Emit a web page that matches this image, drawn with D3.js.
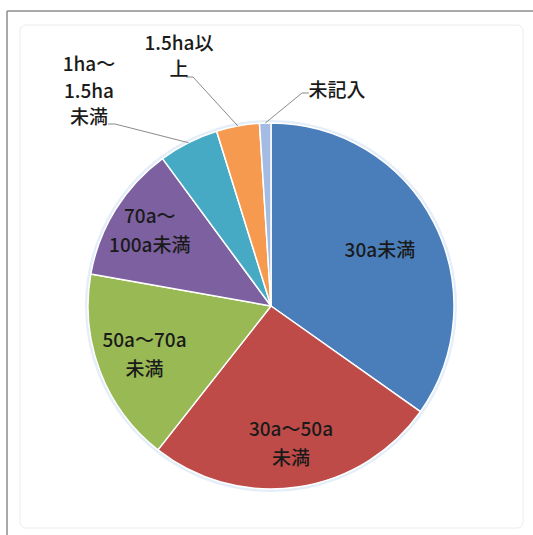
<!DOCTYPE html>
<html>
<head>
<meta charset="utf-8">
<script src="https://cdn.jsdelivr.net/npm/d3@7"></script>
<style>
  html, body { margin: 0; padding: 0; background: #fff; }
  svg { display: block; }
  text { font-family: "Noto Sans CJK JP", "Noto Sans", sans-serif; }
</style>
</head>
<body>
<svg id="chart" width="533" height="535"></svg>
<script>
// Farm size breakdown (share of respondents, %)
const categories = ["30a未満", "30a～50a未満", "50a～70a未満", "70a～100a未満", "1ha～1.5ha未満", "1.5ha以上", "未記入"];
const values = [34.8, 25.8, 17.2, 12.1, 5.3, 3.8, 1.0];
// Label text broken into lines as shown on the chart
const labelLines = [
  ["30a未満"],
  ["30a～50a", "未満"],
  ["50a～70a", "未満"],
  ["70a～", "100a未満"],
  ["1ha～", "1.5ha", "未満"],
  ["1.5ha以", "上"],
  ["未記入"]
];
const colors = ["#4a7ebb", "#be4b48", "#98b954", "#7d60a0", "#46aac5", "#f59a4f", "#a4bce4"];

// Layout: inside labels sit on an arc at a fraction of the radius;
// outside labels are placed at fixed offsets from the centre with leader lines.
const insideRadiusFrac = [0.67, 0.76, 0.74, 0.78];
const outsideLabelPos = { 4: [-182, -215], 5: [-92, -250], 6: [66, -216] };
const leaderElbow = { 4: [-156, -182], 5: [-78, -229], 6: [31, -213] };

const svg = d3.select("#chart");
const W = 533, H = 535;
const cx = 271, cy = 306, R = 183;

// Frame
svg.append("line").attr("x1", 7).attr("y1", 11).attr("x2", W).attr("y2", 11)
  .attr("stroke", "#8c8c8c").attr("stroke-width", 1.5);
svg.append("line").attr("x1", 7).attr("y1", 11).attr("x2", 7).attr("y2", H)
  .attr("stroke", "#8c8c8c").attr("stroke-width", 1.5);
svg.append("rect").attr("x", 20).attr("y", 25).attr("width", 503).attr("height", 503)
  .attr("rx", 6).attr("fill", "none").attr("stroke", "#ececec").attr("stroke-width", 1);

const g = svg.append("g").attr("transform", `translate(${cx},${cy})`);

const pie = d3.pie().sort(null).value(d => d)(values);
const arc = d3.arc().innerRadius(0).outerRadius(R);

// soft halo around the pie
g.append("circle").attr("r", R + 1.5).attr("fill", "none")
  .attr("stroke", "#e4eef8").attr("stroke-width", 3);

g.selectAll("path.slice").data(pie).join("path")
  .attr("class", "slice")
  .attr("d", arc)
  .attr("fill", (d, i) => colors[i])
  .attr("stroke", "#ffffff")
  .attr("stroke-width", 1.5)
  .attr("stroke-linejoin", "round");

const fs = 19;

function drawLines(sel, lines, x, y, color, lh) {
  const t = sel.append("text")
    .attr("text-anchor", "middle")
    .attr("font-size", fs)
    .attr("font-weight", 500)
    .attr("fill", color);
  const n = lines.length;
  lines.forEach((s, k) => {
    t.append("tspan")
      .attr("x", x)
      .attr("y", y + (k - (n - 1) / 2) * lh)
      .attr("dy", "0.36em")
      .text(s);
  });
}

// Inside labels
pie.forEach((d, i) => {
  if (i < insideRadiusFrac.length) {
    const r = R * insideRadiusFrac[i];
    const c = d3.arc().innerRadius(r).outerRadius(r).centroid(d);
    drawLines(g, labelLines[i], c[0], c[1], "#1a1a1a", 29);
  }
});

// Outside labels with leader lines
pie.forEach((d, i) => {
  if (outsideLabelPos[i]) {
    const edge = d3.arc().innerRadius(R).outerRadius(R).centroid(d);
    const e = leaderElbow[i];
    const start = i === 6 ? [e[0] + 7, e[1]] : [e[0] - 7, e[1]];
    g.append("polyline")
      .attr("points", [start, e, edge].map(p => p.join(",")).join(" "))
      .attr("fill", "none")
      .attr("stroke", "#8a8a8a")
      .attr("stroke-width", 1);
    const p = outsideLabelPos[i];
    drawLines(g, labelLines[i], p[0], p[1], "#1a1a1a", 26.5);
  }
});
</script>
</body>
</html>
